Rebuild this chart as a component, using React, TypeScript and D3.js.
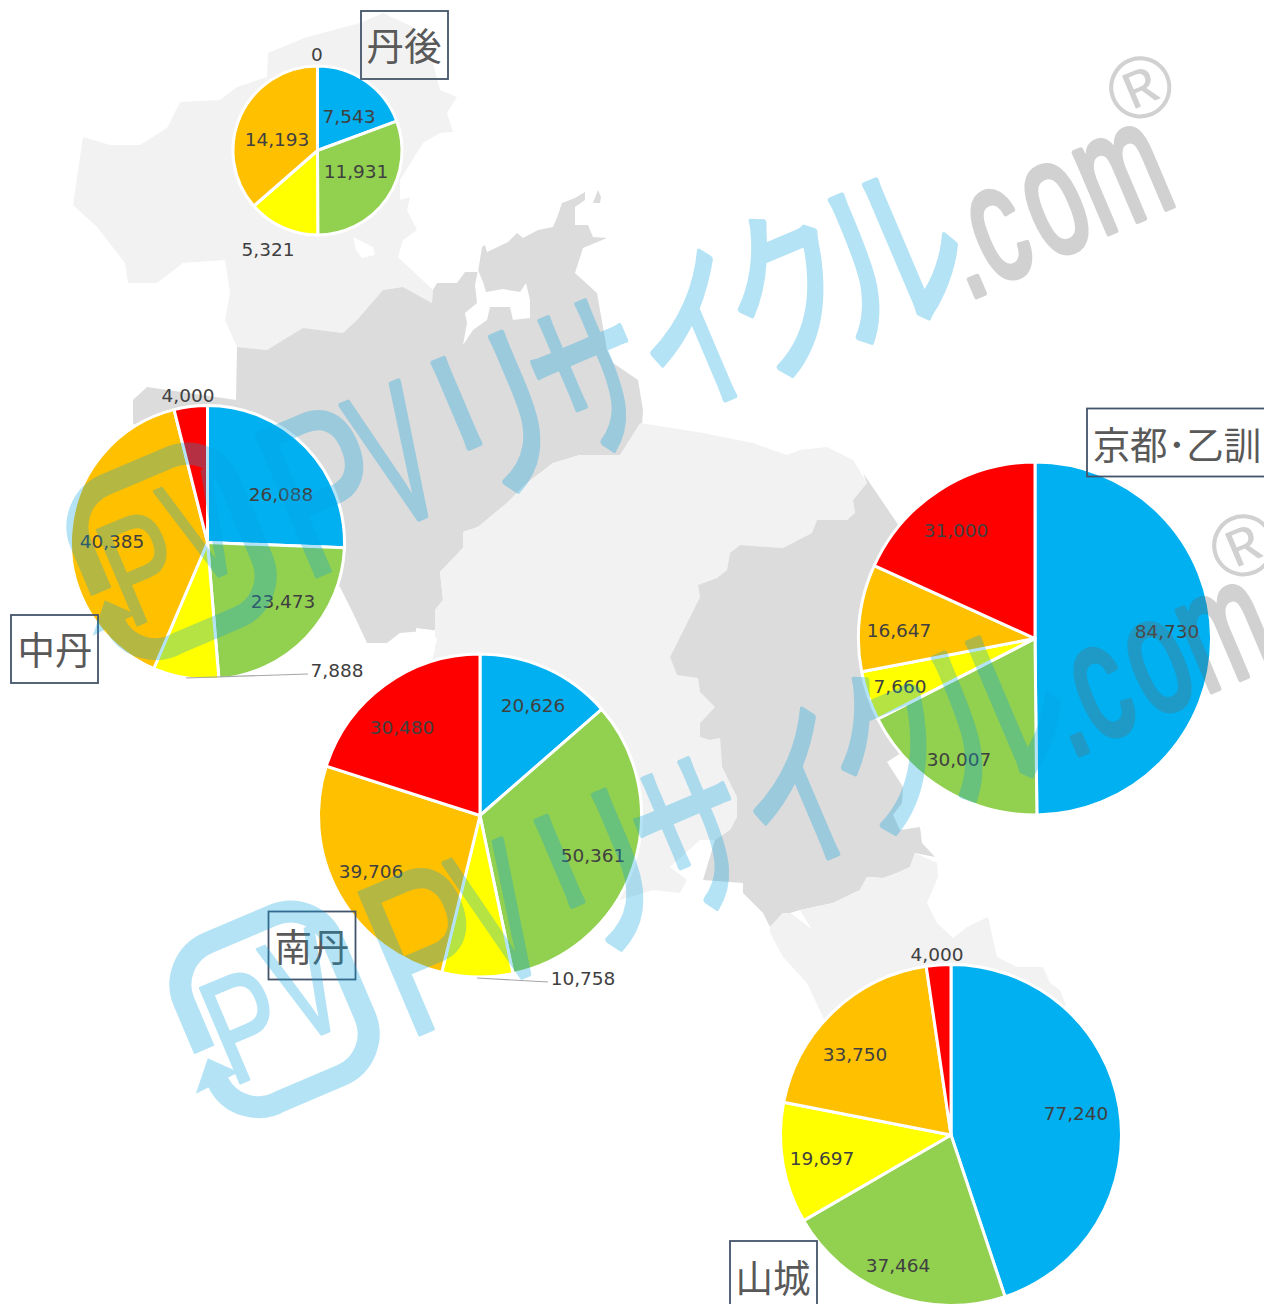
import React from "react";
import * as d3 from "d3";

// ---- data ----
const sliceColors = ["#00B0F0", "#92D050", "#FFFF00", "#FFC000", "#FF0000"];
const tangoValues = [7543, 11931, 5321, 14193, 0];
const chutanValues = [26088, 23473, 7888, 40385, 4000];
const nantanValues = [20626, 50361, 10758, 39706, 30480];
const kyotoValues = [84730, 30007, 7660, 16647, 31000];
const yamashiroValues = [77240, 37464, 19697, 33750, 4000];

// ---- layout (kept apart from the values) ----
const W = 1264, H = 1304;
const pies = [
  { name: "丹後", values: tangoValues, cx: 317.5, cy: 150.5, r: 84.5,
    labels: [[349, 116], [356, 171], [268, 249], [277, 139], [317, 54]],
    box: [361, 11, 87, 68], title: [404, 46] },
  { name: "中丹", values: chutanValues, cx: 207.5, cy: 542.5, r: 137,
    labels: [[281, 494], [283, 601], [337, 670], [112, 541], [188, 395]],
    box: [11, 615, 87, 68], title: [55, 650], leader: [[186, 678], [308, 674]] },
  { name: "南丹", values: nantanValues, cx: 480, cy: 815.5, r: 161.5,
    labels: [[533, 705], [593, 855], [583, 978], [371, 871], [402, 727]],
    box: [268.5, 911.5, 87, 68], title: [312, 947], leader: [[477, 978], [548, 982]] },
  { name: "京都･乙訓", values: kyotoValues, cx: 1035, cy: 638.5, r: 176.5,
    labels: [[1167, 631], [959, 759], [900, 686], [899, 630], [956, 530]],
    box: [1087, 408.5, 190, 68], title: [1177, 445] },
  { name: "山城", values: yamashiroValues, cx: 951, cy: 1135, r: 170.5,
    labels: [[1076, 1113], [898, 1265], [822, 1158], [855, 1054], [937, 954]],
    box: [730, 1241, 87, 75], title: [773, 1278] },
];

// map regions: [x, y] outline vertices
const LIGHT = "#F2F2F2", DARK = "#DCDCDC";
const tangoMap = [[73,205],[83,137],[110,145],[140,145],[167,128],[180,102],[220,100],[237,87],[267,77],[268,53],[307,37],[360,23],[383,13],[413,27],[433,63],[440,90],[457,97],[447,113],[453,132],[440,133],[423,143],[400,180],[400,200],[410,197],[407,210],[417,230],[403,240],[398,257],[433,290],[432,303],[403,287],[383,290],[357,320],[343,333],[303,328],[283,340],[267,350],[237,347],[225,320],[230,293],[225,260],[183,263],[157,283],[128,283],[125,263],[97,227]];
const tangoBay = [[353,237],[373,247],[375,255],[362,258],[356,250]];
const chutanMap = [[237,347],[267,350],[283,340],[303,328],[343,333],[357,320],[383,290],[403,287],[432,303],[433,290],[437,283],[457,283],[465,272],[478,272],[482,247],[485,245],[487,252],[508,242],[517,233],[523,238],[538,230],[553,227],[558,215],[562,203],[575,198],[585,192],[585,200],[575,207],[575,225],[588,225],[593,237],[607,238],[583,248],[575,273],[597,293],[607,350],[613,363],[638,380],[643,410],[642,425],[620,455],[580,455],[553,463],[527,483],[507,503],[478,527],[463,532],[463,548],[440,572],[443,600],[435,610],[435,630],[400,633],[387,643],[367,643],[353,613],[340,587],[200,500],[133,423],[133,400],[147,387],[236,400]];
const chutanIsle = [[598,190],[601,197],[600,203],[593,203]];
const maizuruInlet = [[475,285],[478,270],[483,282],[486,292],[503,289],[520,292],[526,283],[530,300],[530,318],[513,320],[510,307],[490,307],[487,320],[473,330],[463,345],[467,323],[465,313],[477,303]];
const nantanMap = [[640,423],[703,433],[753,443],[787,455],[800,450],[827,447],[853,460],[867,483],[853,500],[855,513],[847,520],[817,520],[812,533],[783,548],[740,545],[730,553],[727,570],[717,578],[698,585],[700,597],[680,637],[670,657],[677,675],[698,678],[700,692],[715,707],[700,723],[700,737],[710,740],[720,738],[722,767],[737,797],[737,817],[730,830],[715,840],[700,840],[670,867],[687,880],[680,893],[653,890],[620,900],[480,850],[420,700],[435,650],[435,610],[443,600],[440,572],[463,548],[463,532],[478,527],[507,503],[527,483],[553,463],[580,455],[620,455]];
const whiteBlob = [[416,628],[432,630],[437,640],[433,653],[416,660]];
const kyotoMap = [[867,483],[863,473],[897,523],[950,600],[950,700],[898,755],[887,762],[903,787],[902,803],[893,815],[900,830],[920,827],[922,843],[935,857],[915,853],[910,867],[897,873],[883,878],[867,877],[860,890],[833,903],[800,910],[790,913],[812,930],[783,913],[770,927],[763,913],[743,893],[743,883],[703,880],[715,840],[730,830],[737,817],[737,797],[722,767],[720,738],[710,740],[700,737],[700,723],[715,707],[700,692],[698,678],[677,675],[670,657],[680,637],[700,597],[698,585],[717,578],[727,570],[730,553],[740,545],[783,548],[812,533],[817,520],[847,520],[855,513],[853,500]];
const yamashiroMap = [[770,927],[783,913],[790,913],[812,930],[800,910],[833,903],[860,890],[867,877],[883,878],[897,873],[910,867],[915,853],[937,863],[938,877],[927,903],[937,923],[953,938],[967,927],[988,917],[997,957],[1017,967],[1043,967],[1050,983],[1060,990],[1066,1005],[1000,1100],[850,1100],[823,1017],[807,983],[783,957],[770,933]];

// watermark characters: [char, centre x, centre y, font size, x-scale, family, dy in em, outline]
const SANS = "'Liberation Sans', Arial, sans-serif";
const JP = "'Noto Sans CJK JP', sans-serif";
const wmBlue = [
  ["P", 325, 489, 225, 0.75, SANS, 0.345, 3],
  ["V", 396, 455, 195, 0.5, SANS, 0.345, 6],
  ["リ", 497, 417, 190, 0.72, JP, 0.36, 6],
  ["サ", 592, 380, 180, 0.62, JP, 0.36, 6],
  ["イ", 697, 335, 180, 0.65, JP, 0.36, 6],
  ["ク", 790, 295, 185, 0.7, JP, 0.36, 6],
  ["ル", 890, 255, 190, 0.75, JP, 0.36, 6],
  ["P", 142, 567, 150, 0.72, SANS, 0.345, 2.5],
  ["V", 202, 527, 150, 0.62, SANS, 0.345, 3],
];
const wmGray = [
  [".", 977, 287, 165, 0.62, SANS, 0.05, 6],
  ["c", 1000, 236, 165, 0.62, SANS, 0.26, 6],
  ["o", 1057, 210, 165, 0.62, SANS, 0.26, 6],
  ["m", 1124, 180, 165, 0.62, SANS, 0.26, 6],
  ["®", 1140, 87, 88, 1, SANS, 0.35, 0],
];
const ANGLE = -23;
const secondShift = [103, 458];
const logoCentre = [172, 551];
const logoFrame = "M-81,10 V-42 A45,45 0 0 1 -36,-87 H35 A45,45 0 0 1 80,-42 V42 A45,45 0 0 1 35,87 H-30 A45,45 0 0 1 -81,45";
const logoArrow = [[-81, 19], [-106, 47], [-58, 44]];

const pieGen = d3.pie<number>().sort(null).value((d) => d);
const poly = d3.line();

function Watermark({ dx, dy }: { dx: number; dy: number }) {
  const ch = (c: any, i: number, col: string) => (
    <text key={i} transform={`translate(${c[1] + dx},${c[2] + dy}) rotate(${ANGLE}) scale(${c[4]},1)`}
      textAnchor="middle" dy={`${c[6]}em`} fontFamily={c[5]} fontSize={c[3]}
      fill={col} stroke={col} strokeWidth={c[7]} strokeLinejoin="round">{c[0]}</text>
  );
  return (
    <g>
      <g opacity={0.3}>
        {wmBlue.map((c, i) => ch(c, i, "#08A2E1"))}
        <g transform={`translate(${logoCentre[0] + dx},${logoCentre[1] + dy}) rotate(${ANGLE})`}>
          <path d={logoFrame} fill="none" stroke="#08A2E1" strokeWidth={22} />
          <path d={poly(logoArrow as any) + "Z"} fill="#08A2E1" />
        </g>
      </g>
      <g opacity={0.3}>{wmGray.map((c, i) => ch(c, i, "#666666"))}</g>
    </g>
  );
}

export default function App() {
  const closed = (p: number[][]) => poly(p as any) + "Z";
  return (
    <svg width={W} height={H} viewBox={`0 0 ${W} ${H}`}
      style={{ position: "absolute", left: 0, top: 0, display: "block", background: "#fff" }}>
      <g>
        <path d={closed(tangoMap)} fill={LIGHT} />
        <path d={closed(tangoBay)} fill="#fff" />
        <path d={closed(chutanMap)} fill={DARK} />
        <path d={closed(chutanIsle)} fill={DARK} />
        <path d={closed(maizuruInlet)} fill="#fff" />
        <path d={closed(nantanMap)} fill={LIGHT} />
        <path d={closed(whiteBlob)} fill="#fff" />
        <path d={closed(kyotoMap)} fill={DARK} />
        <path d={closed(yamashiroMap)} fill={LIGHT} />
      </g>
      {pies.map((p) => {
        const arc = d3.arc<d3.PieArcDatum<number>>().innerRadius(0).outerRadius(p.r);
        return (
          <g key={p.name} transform={`translate(${p.cx},${p.cy})`}>
            {pieGen(p.values).map((s, i) =>
              s.value > 0 ? (
                <path key={i} d={arc(s) as string} fill={sliceColors[i]} stroke="#fff" strokeWidth={3} strokeLinejoin="round" />
              ) : null
            )}
          </g>
        );
      })}
      {pies.map((p) => (
        <g key={p.name + "-t"}>
          {p.leader && <path d={poly(p.leader as any) as string} fill="none" stroke="#A6A6A6" strokeWidth={1.2} />}
          {p.values.map((v, i) => (
            <text key={i} x={p.labels[i][0]} y={p.labels[i][1]} dy="0.36em" textAnchor="middle"
              fontFamily="'DejaVu Sans', Verdana, sans-serif" fontSize={18.5} fill="#404040">
              {d3.format(",")(v)}
            </text>
          ))}
          <rect x={p.box[0]} y={p.box[1]} width={p.box[2]} height={p.box[3]} fill="none" stroke="#44546A" strokeWidth={1.8} />
          <text x={p.title[0]} y={p.title[1]} dy="0.36em" textAnchor="middle"
            fontFamily="'Noto Sans CJK JP', sans-serif" fontWeight={400} fontSize={37.5} fill="#595959">{p.name}</text>
        </g>
      ))}
      <Watermark dx={0} dy={0} />
      <Watermark dx={secondShift[0]} dy={secondShift[1]} />
    </svg>
  );
}
